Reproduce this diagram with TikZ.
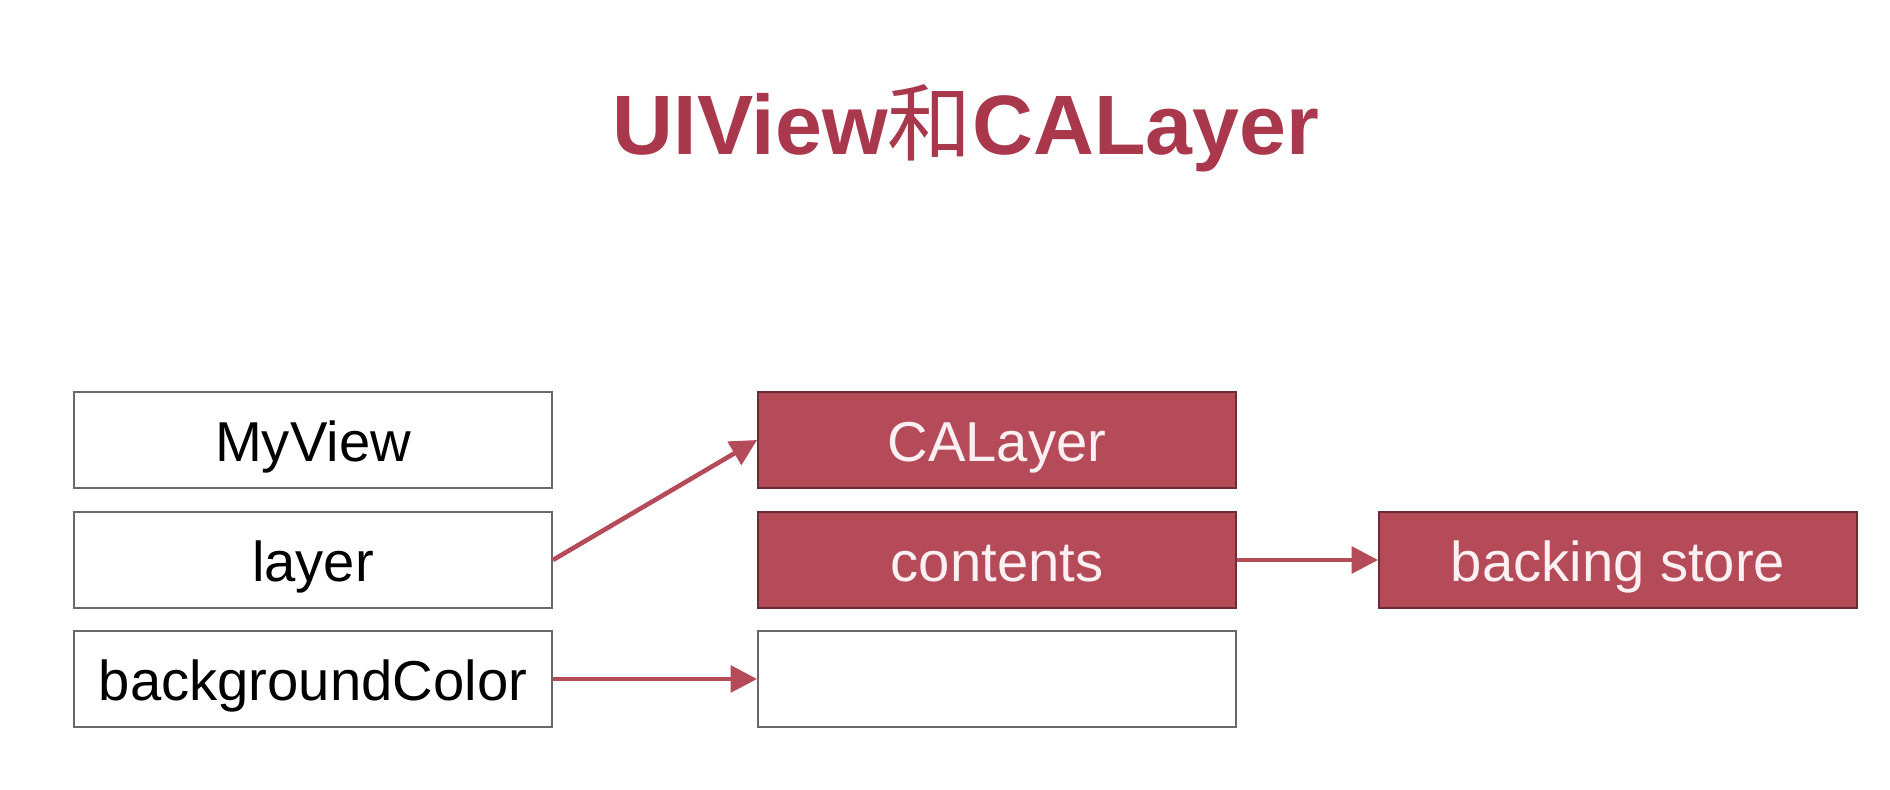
\documentclass[tikz,border=0pt]{standalone}
\usepackage{fontspec}
\setmainfont{Liberation Sans}
\newfontfamily\cjk{Noto Sans CJK SC}
\usetikzlibrary{arrows.meta}
\definecolor{layerred}{RGB}{181,74,88}
\definecolor{titlered}{RGB}{170,56,76}
\definecolor{boxgray}{RGB}{105,105,105}
\definecolor{pinkwhite}{RGB}{252,240,242}

\begin{document}
\begin{tikzpicture}[
  x=0.02cm, y=-0.02cm,
  font=\fontsize{32}{38}\selectfont,
  box/.style={draw=boxgray, line width=1.1pt, fill=white, rectangle,
              minimum width=9.56cm, minimum height=1.92cm, inner sep=0pt,
              text height=24pt, text depth=0pt},
  rbox/.style={box, fill=layerred, draw=black!40!layerred, text=pinkwhite},
  arr/.style={-{Triangle[length=15pt,width=15pt]}, line width=2.6pt, layerred},
  title/.style={font=\fontsize{48}{56}\selectfont\bfseries, text=titlered},
]
  \useasboundingbox (0,0) rectangle (1890,790);

  \def\xA{313}   % UIView
  \def\xB{997}   % CALayer
  \def\xC{1618}  % backing store
  \def\yA{440}
  \def\yB{560}
  \def\yC{679}

  % --- Title ---
  \node[title, anchor=base] at (966,155) (head) {UIView{\cjk\mdseries 和}CALayer};

  % --- UIView side ---
  \node[box] at (\xA,\yA) (view) {MyView};
  \node[box] at (\xA,\yB) (vlayer) {layer};
  \node[box] at (\xA,\yC) (vbg) {backgroundColor};

  % --- CALayer side ---
  \node[rbox] at (\xB,\yA) (cal) {CALayer};
  \node[rbox] at (\xB,\yB) (ccont) {contents};
  \node[box] at (\xB,\yC) (cbg) {};

  \node[rbox] at (\xC,\yB) (store) {backing store};

  % --- Links ---
  \draw[arr] (vlayer.east) -- (cal.west);
  \draw[arr] (vbg.east) -- (cbg.west);
  \draw[arr] (ccont.east) -- (store.west);

\end{tikzpicture}
\end{document}
